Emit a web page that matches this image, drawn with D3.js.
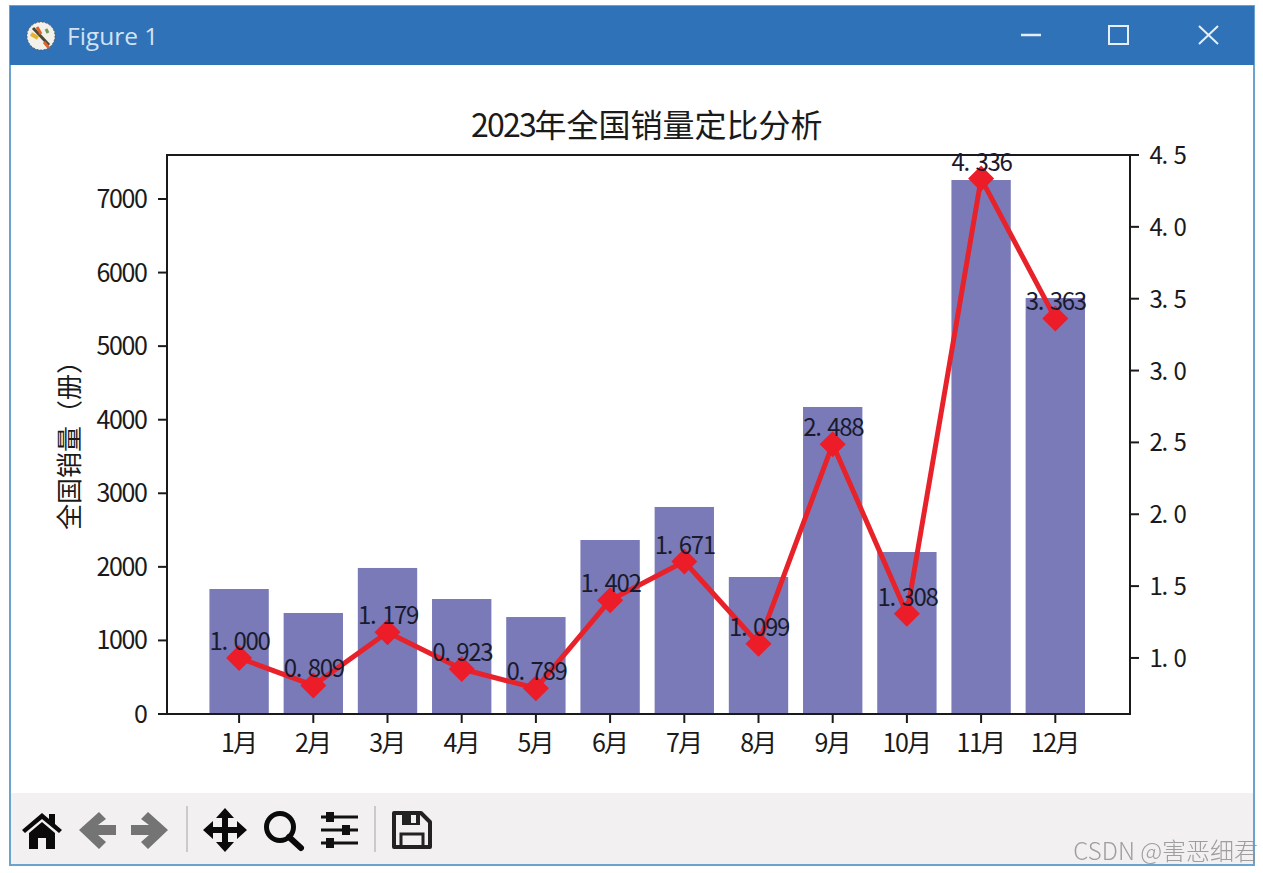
<!DOCTYPE html>
<html><head><meta charset="utf-8">
<script src="https://cdn.jsdelivr.net/npm/d3@7/dist/d3.min.js"></script>
<style>html,body{margin:0;padding:0;background:#fff;overflow:hidden}svg{display:block;filter:blur(0.6px)}</style>
</head><body>
<svg id="c" width="1263" height="873"></svg>
<script>
const months=["1月","2月","3月","4月","5月","6月","7月","8月","9月","10月","11月","12月"];
const sales=[1699,1373,1985,1563,1318,2365,2814,1862,4173,2202,7258,5654];
const ratios=[1.000,0.809,1.179,0.923,0.789,1.402,1.671,1.099,2.488,1.308,4.336,3.363];
const ratioLabels=["1.000","0.809","1.179","0.923","0.789","1.402","1.671","1.099","2.488","1.308","4.336","3.363"];
const leftTicks=[0,1000,2000,3000,4000,5000,6000,7000];
const rightTicks=[1.0,1.5,2.0,2.5,3.0,3.5,4.0,4.5];
const titleText="2023年全国销量定比分析";
const yLabelText="全国销量（册）";

const FONT='"Liberation Sans Narrow","Noto Sans CJK SC",sans-serif';
const svg=d3.select("#c");
const inner={left:167,right:1130,top:155,bottom:714};

// half-width / full-width layout like SimHei
function cells(s,f){let x=0;const r=[];for(const ch of s){const wide=ch.charCodeAt(0)>255;r.push({ch,x,wide});x+=wide?f:f/2;}return {r,w:x};}
function hei(g,s,cx,y,f,fill,anchor){
  const {r,w}=cells(s,f);
  const x0=anchor==="end"?cx-w:anchor==="start"?cx:cx-w/2;
  const xs=r.map(c=>(x0+c.x+(c.wide?0:f*0.02)).toFixed(1)).join(" ");
  return g.append("text").attr("x",xs).attr("y",y).attr("font-family",FONT).attr("font-size",f).attr("fill",fill||"#1a1a1a").text(s);
}

// window chrome
const chrome=svg.append("g");
chrome.append("rect").attr("x",10).attr("y",6).attr("width",1244).attr("height",859).attr("fill","#fff").attr("stroke","#6aa3d0").attr("stroke-width",2);
chrome.append("rect").attr("x",10).attr("y",6).attr("width",1244).attr("height",59).attr("fill","#3072b8");
chrome.append("rect").attr("x",11).attr("y",793).attr("width",1242).attr("height",71).attr("fill","#f2f0f1");
const ic=chrome.append("g").attr("transform","translate(41,36)");
ic.append("circle").attr("r",14).attr("fill","#f4f1ea").attr("stroke","#555").attr("stroke-dasharray","1.5 2");
ic.append("path").attr("d","M-8,-8L8,9").attr("stroke","#4a4a3a").attr("stroke-width",3);
ic.append("path").attr("d","M-4,-9L0,-2").attr("stroke","#e0622a").attr("stroke-width",3);
ic.append("path").attr("d","M-10,-2L-3,2").attr("stroke","#e5b32e").attr("stroke-width",4);
ic.append("path").attr("d","M3,6L8,12").attr("stroke","#d9662d").attr("stroke-width",3);
ic.append("path").attr("d","M5,-7L7,-3").attr("stroke","#6f9a57").attr("stroke-width",3);
chrome.append("text").attr("x",67).attr("y",45).attr("font-family","'Open Sans',sans-serif").attr("font-size",24.5).attr("fill","#d3e3f3").text("Figure 1");
chrome.append("path").attr("d","M1021,35H1041").attr("stroke","#e6eff8").attr("stroke-width",2.5);
chrome.append("rect").attr("x",1109).attr("y",26).attr("width",19).attr("height",18).attr("fill","none").attr("stroke","#e6eff8").attr("stroke-width",2);
chrome.append("path").attr("d","M1199,26L1218,44M1218,26L1199,44").attr("stroke","#e6eff8").attr("stroke-width",2);

// toolbar icons
const tb=chrome.append("g");
tb.append("path").attr("d","M22,830L42,813L49,819V814H55V824L62,830L59,833L42,819L25,833ZM29,833L42,822L55,833V849H46V838H38V849H29Z").attr("fill","#0a0a0a");
tb.append("path").attr("d","M79,830L99,812L106,819L98,825H116V835H98L106,842L99,849Z").attr("fill","#747474");
tb.append("path").attr("d","M168,830L148,812L141,819L149,825H131V835H149L141,842L148,849Z").attr("fill","#747474");
tb.append("path").attr("d","M187,806V852M375,806V852").attr("stroke","#bdbdbd").attr("stroke-width",1.5);
tb.append("path").attr("d","M225,808L234,818H228V827H237V821L247,830L237,839V833H228V842H234L225,852L216,842H222V833H213V839L203,830L213,821V827H222V818H216Z").attr("fill","#0a0a0a");
tb.append("circle").attr("cx",280).attr("cy",827).attr("r",13.5).attr("fill","none").attr("stroke","#0a0a0a").attr("stroke-width",5);
tb.append("path").attr("d","M289,837L301,848").attr("stroke","#0a0a0a").attr("stroke-width",6).attr("stroke-linecap","round");
tb.append("path").attr("d","M321,817H358M321,830H358M321,843H358").attr("stroke","#111").attr("stroke-width",3);
tb.append("path").attr("d","M326,812h8v10h-8zM342,825h8v10h-8zM326,838h8v10h-8z").attr("fill","#111");
tb.append("path").attr("d","M394,813H421L430,822V847H394Z").attr("fill","none").attr("stroke","#222").attr("stroke-width",4).attr("stroke-linejoin","round");
tb.append("path").attr("d","M402,813H420V825H402Z").attr("fill","#222");
tb.append("rect").attr("x",411).attr("y",815).attr("width",5).attr("height",8).attr("fill","#f2f0f1");
tb.append("path").attr("d","M401,848V834H423V848").attr("fill","none").attr("stroke","#222").attr("stroke-width",3);

// scales
const x=d3.scaleBand().domain(months).range([202,1092.4]).paddingInner(0.2).paddingOuter(0.1);
const cx=d=>x(d)+x.bandwidth()/2;
const yL=d3.scaleLinear().domain([0,7598]).range([inner.bottom,inner.top]);
const yR=d3.scaleLinear().domain([0.61,4.5]).range([inner.bottom,inner.top]);

// bars
svg.append("g").selectAll("rect").data(months).join("rect")
  .attr("x",d=>x(d)).attr("width",x.bandwidth())
  .attr("y",(d,i)=>yL(sales[i])).attr("height",(d,i)=>yL(0)-yL(sales[i]))
  .attr("fill","#7a7ab8");

// axes frame
svg.append("rect").attr("x",inner.left).attr("y",inner.top).attr("width",inner.right-inner.left).attr("height",inner.bottom-inner.top)
  .attr("fill","none").attr("stroke","#1a1a1a").attr("stroke-width",2);

const tickG=svg.append("g").attr("stroke","#1a1a1a").attr("stroke-width",2);
leftTicks.forEach(t=>{
  tickG.append("line").attr("x1",inner.left-9).attr("x2",inner.left).attr("y1",yL(t)).attr("y2",yL(t));
  hei(svg,String(t),inner.left-21,yL(t)+9,25,"#1a1a1a","end");
});
rightTicks.forEach(t=>{
  tickG.append("line").attr("x1",inner.right).attr("x2",inner.right+9).attr("y1",yR(t)).attr("y2",yR(t));
  hei(svg,t.toFixed(1),inner.right+19,yR(t)+9,24,"#1a1a1a","start");
});
months.forEach(m=>{
  tickG.append("line").attr("x1",cx(m)).attr("x2",cx(m)).attr("y1",inner.bottom).attr("y2",inner.bottom+9);
  hei(svg,m,cx(m),752,25,"#1a1a1a","middle");
});

// line + diamonds
const line=d3.line().x((d,i)=>cx(months[i])).y(d=>yR(d));
svg.append("path").datum(ratios).attr("d",line).attr("fill","none").attr("stroke","#e8222a").attr("stroke-width",5).attr("stroke-linejoin","round");
svg.selectAll("path.pt").data(ratios).join("path").attr("class","pt")
  .attr("transform",(d,i)=>`translate(${cx(months[i])},${yR(d)})`)
  .attr("d","M0,-13L13,0L0,13L-13,0Z")
  .attr("fill","#ec1c28");

// point labels
ratioLabels.forEach((s,i)=>{
  hei(svg,s,cx(months[i]),yR(ratios[i])-8,24,"#1a1a2e","middle");
});

// title / y label
hei(svg,titleText,646.5,137,32,"#1a1a1a","middle");
const yl=svg.append("g").attr("transform","translate(78.5,439) rotate(-90)");
hei(yl,yLabelText,0,0,26,"#1a1a1a","middle");

// watermark
svg.append("text").attr("x",1258).attr("y",860).attr("text-anchor","end").attr("font-family",'"Noto Sans CJK SC",sans-serif').attr("font-weight",300).attr("font-size",24).attr("fill","#8f8f8f").attr("fill-opacity",0.85).text("CSDN @害恶细君");
</script>
</body></html>
